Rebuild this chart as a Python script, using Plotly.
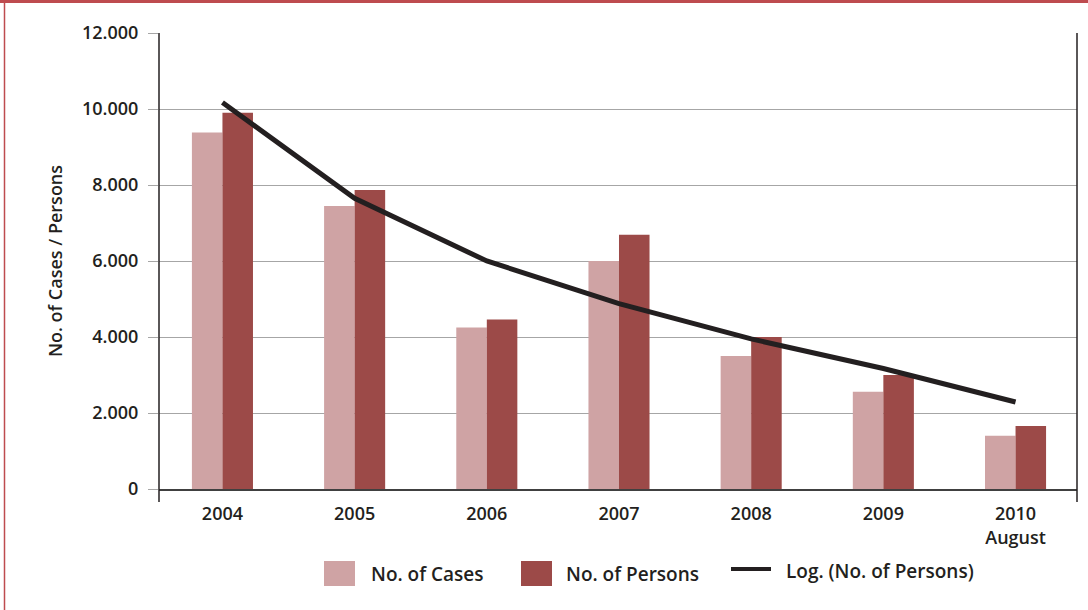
import plotly.graph_objects as go

categories = ["2004", "2005", "2006", "2007", "2008", "2009", "2010<br>August"]
cases = [9380, 7450, 4250, 6000, 3500, 2560, 1400]
persons = [9900, 7870, 4460, 6690, 4000, 3000, 1660]
log_trend = [10170, 7650, 6000, 4880, 3950, 3170, 2290]
y_tickvals = [0, 2000, 4000, 6000, 8000, 10000, 12000]
y_ticktext = ["0", "2.000", "4.000", "6.000", "8.000", "10.000", "12.000"]

W, H = 1088, 610
L, R, T, B = 159, 1077, 33, 489
FONT = "Open Sans"
TXT = "#231f20"
C_CASES = "#cfa3a4"
C_PERS = "#9c4a48"
FS = 18
FW = 600


def xp(px):
    return (px - L) / (R - L)


def yp(py):
    return (B - py) / (B - T)


def fnt(size=FS):
    return dict(family=FONT, size=size, color=TXT, weight=FW)


fig = go.Figure()
fig.add_trace(go.Bar(x=categories, y=cases, name="No. of Cases",
                     marker=dict(color=C_CASES, line=dict(width=0)), showlegend=False))
fig.add_trace(go.Bar(x=categories, y=persons, name="No. of Persons",
                     marker=dict(color=C_PERS, line=dict(width=0)), showlegend=False))
fig.add_trace(go.Scatter(x=categories, y=log_trend, name="Log. (No. of Persons)",
                         mode="lines", line=dict(color=TXT, width=5), showlegend=False))

shapes = []
# vertical frame lines extending below the x axis
for x in (L, R):
    shapes.append(dict(type="line", xref="paper", yref="paper",
                       x0=xp(x), x1=xp(x), y0=yp(T), y1=yp(502),
                       line=dict(color=TXT, width=1.5)))
# outer red border (top & left)
shapes.append(dict(type="line", xref="paper", yref="paper",
                   x0=xp(0), x1=xp(W), y0=yp(1.5), y1=yp(1.5),
                   line=dict(color="#be4b4f", width=3)))
shapes.append(dict(type="line", xref="paper", yref="paper",
                   x0=xp(4.5), x1=xp(4.5), y0=yp(0), y1=yp(H),
                   line=dict(color="#be4b4f", width=1.5)))
# custom legend
shapes.append(dict(type="rect", xref="paper", yref="paper",
                   x0=xp(324), x1=xp(355), y0=yp(561), y1=yp(586),
                   fillcolor=C_CASES, line=dict(width=0)))
shapes.append(dict(type="rect", xref="paper", yref="paper",
                   x0=xp(521), x1=xp(552), y0=yp(561), y1=yp(586),
                   fillcolor=C_PERS, line=dict(width=0)))
shapes.append(dict(type="line", xref="paper", yref="paper",
                   x0=xp(731), x1=xp(771), y0=yp(569), y1=yp(569),
                   line=dict(color=TXT, width=4)))

annotations = []
for x, y, t in [(369, 574, "No. of Cases"), (564, 574, "No. of Persons"),
                (784, 571, "Log. (No. of Persons)")]:
    annotations.append(dict(xref="paper", yref="paper", x=xp(x), y=yp(y),
                            text=t, showarrow=False, xanchor="left", yanchor="middle",
                            font=fnt(19)))

fig.update_layout(
    width=W, height=H,
    margin=dict(l=L, r=W - R, t=T, b=H - B, pad=0),
    paper_bgcolor="white", plot_bgcolor="white",
    barmode="group", bargap=0.538, bargroupgap=0,
    font=fnt(),
    shapes=shapes, annotations=annotations,
    showlegend=False,
    xaxis=dict(type="category", range=[-0.48, 6.465], showgrid=False,
               showline=True, linecolor="#404040", linewidth=1.5,
               ticks="outside", ticklen=8, tickcolor="rgba(0,0,0,0)",
               tickfont=fnt()),
    yaxis=dict(range=[0, 12000], tickvals=y_tickvals, ticktext=y_ticktext,
               showgrid=True, gridcolor="#a6a6a6", gridwidth=1.2,
               zeroline=False, showline=False,
               ticks="outside", ticklen=10, tickcolor="#a6a6a6", tickwidth=1.2,
               ticklabelstandoff=6,
               tickfont=fnt(),
               title=dict(text="No. of Cases / Persons", standoff=14,
                          font=fnt())),
)

fig.write_html("out.html")
